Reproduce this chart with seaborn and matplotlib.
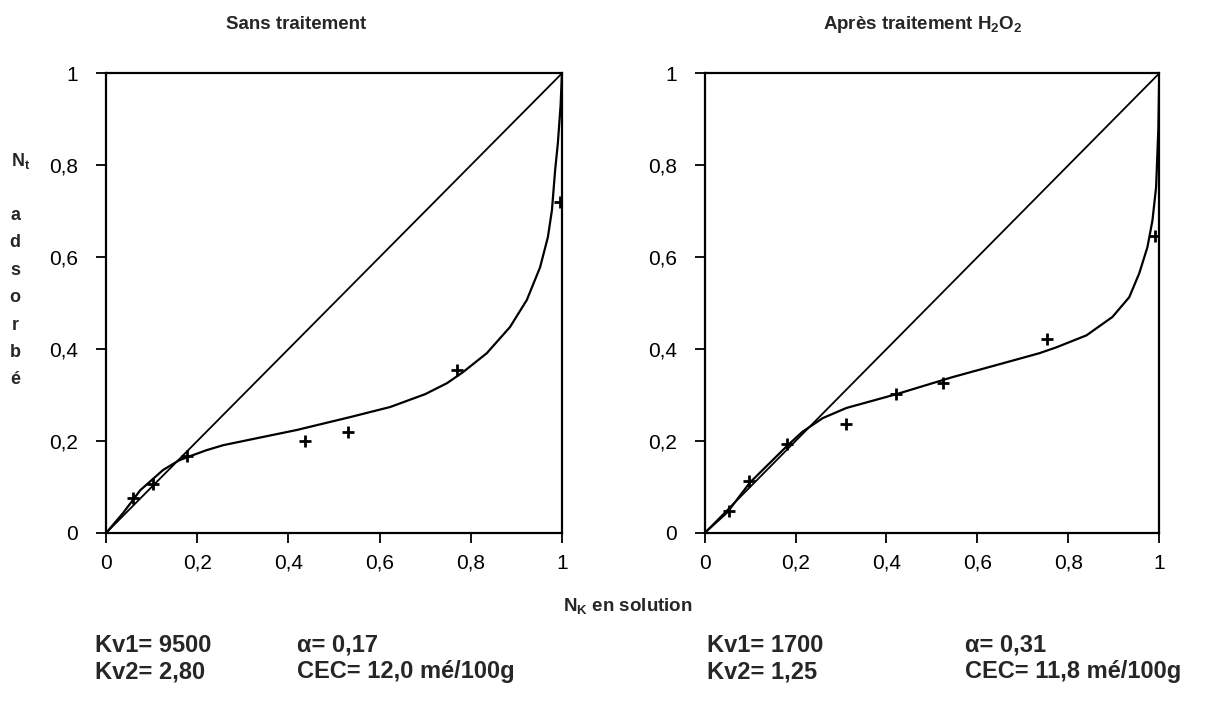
import matplotlib
matplotlib.use("Agg")
import matplotlib.pyplot as plt
import seaborn as sns
import pandas as pd

# measured points (N_K in solution, N_K adsorbed)
left_x = [0.059, 0.103, 0.177, 0.436, 0.530, 0.770, 0.995]
left_y = [0.076, 0.106, 0.167, 0.200, 0.220, 0.354, 0.720]
right_x = [0.053, 0.097, 0.182, 0.312, 0.422, 0.525, 0.754, 0.991]
right_y = [0.048, 0.113, 0.193, 0.237, 0.302, 0.326, 0.422, 0.646]

# fitted curves
left_cx = [0.0, 0.037, 0.075, 0.125, 0.160, 0.184, 0.220, 0.257, 0.330, 0.418, 0.535, 0.623,
           0.700, 0.748, 0.783, 0.835, 0.886, 0.923, 0.952, 0.969, 0.978, 0.985, 0.991, 0.997, 1.0]
left_cy = [0.0, 0.043, 0.093, 0.137, 0.158, 0.167, 0.180, 0.191, 0.206, 0.224, 0.252, 0.274,
           0.302, 0.326, 0.350, 0.391, 0.448, 0.507, 0.578, 0.643, 0.702, 0.789, 0.848, 0.930, 1.0]
right_cx = [0.0, 0.050, 0.100, 0.182, 0.215, 0.260, 0.312, 0.422, 0.545, 0.626, 0.736,
            0.774, 0.840, 0.897, 0.934, 0.956, 0.974, 0.985, 0.993, 0.998, 1.0]
right_cy = [0.0, 0.045, 0.110, 0.190, 0.220, 0.250, 0.272, 0.302, 0.339, 0.361, 0.391,
            0.404, 0.430, 0.470, 0.513, 0.565, 0.622, 0.680, 0.752, 0.880, 1.0]

ticks = [0, 0.2, 0.4, 0.6, 0.8, 1]
tick_labels = ["0", "0,2", "0,4", "0,6", "0,8", "1"]

sns.set_style("ticks")
plt.rcParams["font.family"] = ["Liberation Sans", "DejaVu Sans"]
plt.rcParams["mathtext.fontset"] = "custom"
plt.rcParams["mathtext.bf"] = "Liberation Sans:bold"
plt.rcParams["mathtext.rm"] = "Liberation Sans:bold"
plt.rcParams["mathtext.default"] = "bf"

fig = plt.figure(figsize=(12.19, 7.05), dpi=100)
ax1 = fig.add_axes([0.087, 0.244, 0.374, 0.652])
ax2 = fig.add_axes([0.578, 0.244, 0.373, 0.652])

panels = [
    (ax1, left_x, left_y, left_cx, left_cy),
    (ax2, right_x, right_y, right_cx, right_cy),
]
for ax, px, py, cx, cy in panels:
    ax.plot([0, 1], [0, 1], color="black", lw=1.3)
    curve = pd.DataFrame({"x": cx, "y": cy})
    sns.lineplot(data=curve, x="x", y="y", ax=ax, sort=False, color="black", lw=1.6)
    pts = pd.DataFrame({"x": px, "y": py})
    sns.scatterplot(data=pts, x="x", y="y", ax=ax, marker="+", s=70,
                    color="black", linewidth=2, zorder=5)
    ax.set_xlim(0, 1)
    ax.set_ylim(0, 1)
    ax.set_xticks(ticks)
    ax.set_xticklabels(tick_labels)
    ax.set_yticks(ticks)
    ax.set_yticklabels(tick_labels)
    ax.tick_params(axis="both", labelsize=15, length=7, width=1.3, direction="out",
                   colors="black")
    ax.tick_params(axis="y", pad=13)
    ax.tick_params(axis="x", pad=8)
    ax.set_xlabel("")
    ax.set_ylabel("")
    for sp in ax.spines.values():
        sp.set_visible(True)
        sp.set_linewidth(1.6)
        sp.set_color("black")

fig.text(0.243, 0.965, "Sans traitement", ha="center", va="center",
         fontsize=13.5, fontweight="bold")
fig.text(0.757, 0.965, "Après traitement H$_2$O$_2$", ha="center", va="center",
         fontsize=13.5, fontweight="bold")

# y label: N_t then vertical letters
fig.text(0.017, 0.772, "N$_t$", ha="center", va="center", fontsize=13, fontweight="bold")
for i, ch in enumerate("adsorbé"):
    fig.text(0.0125, 0.695 - i * 0.039, ch, ha="center", va="center",
             fontsize=13, fontweight="bold")

fig.text(0.515, 0.14, "N$_K$ en solution", ha="center", va="center",
         fontsize=13.5, fontweight="bold")

notes = [
    (0.078, 0.085, "Kv1= 9500"), (0.078, 0.047, "Kv2= 2,80"),
    (0.244, 0.085, "α= 0,17"), (0.244, 0.047, "CEC= 12,0 mé/100g"),
    (0.580, 0.085, "Kv1= 1700"), (0.580, 0.047, "Kv2= 1,25"),
    (0.792, 0.085, "α= 0,31"), (0.792, 0.047, "CEC= 11,8 mé/100g"),
]
for x, y, t in notes:
    fig.text(x, y, t, ha="left", va="center", fontsize=17, fontweight="bold")

fig.savefig("out.png", dpi=100)
